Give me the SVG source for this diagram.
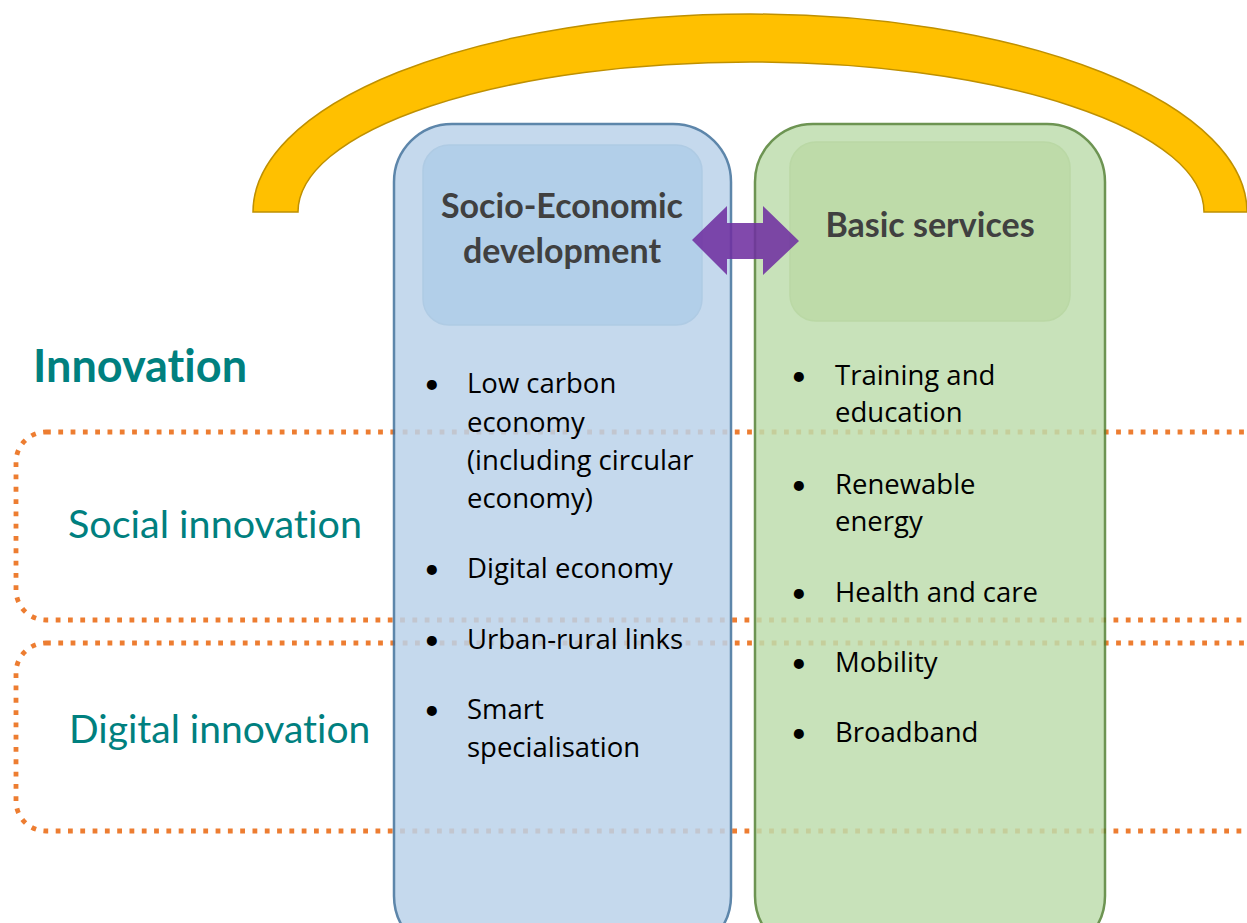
<svg xmlns="http://www.w3.org/2000/svg" width="1247" height="923" viewBox="0 0 1247 923">
<style>
text{font-variant-ligatures:none}
.dot{fill:none;stroke:#ED7D31;stroke-width:4.8;stroke-dasharray:4.8 7.5}
.col{opacity:0.85}
.title{font-family:Lato,"Open Sans",sans-serif;font-weight:bold;fill:#404040;font-size:34px;text-anchor:middle}
.item{font-family:"Open Sans",Lato,sans-serif;font-size:27.5px;fill:#000}
.item .b{font-family:Lato,"Open Sans",sans-serif;font-size:27px}
.cat{font-family:Lato,"Open Sans",sans-serif;fill:#00807F}
</style>
<rect width="1247" height="923" fill="#fff"/>
<g id="arc">
<path d="M253,212 A497,198 0 0 1 1247,212 L1204,212 A453,150 0 0 0 298,212 Z" fill="#FFC000" stroke="#BF9000" stroke-width="1.5"/>
</g>
<g id="innovation">
<text class="cat" x="33" y="382" font-size="45" font-weight="bold">Innovation</text>
</g>
<g id="social-innovation">
<rect class="dot" x="16" y="432" width="1260" height="188" rx="30"/>
<text class="cat" x="68" y="538" font-size="39.5">Social innovation</text>
</g>
<g id="digital-innovation">
<rect class="dot" x="16" y="643" width="1260" height="188" rx="30"/>
<text class="cat" x="69" y="743" font-size="39">Digital innovation</text>
</g>
<g id="socio-economic">
<rect class="col" x="394" y="124" width="337" height="830" rx="58" fill="#BBD3EB" stroke="#41719C" stroke-width="2.5"/>
<rect x="423" y="145" width="279" height="180" rx="26" fill="#B2CFE9" stroke="#AFCBE4" stroke-width="1.5"/>
<text class="title" x="562" y="218">Socio-Economic</text>
<text class="title" x="562" y="263">development</text>
<g class="item">
<text class="b" x="424" y="393">•</text><text x="467" y="393">Low carbon</text>
<text x="467" y="432">economy</text>
<text x="467" y="470">(including circular</text>
<text x="467" y="508">economy)</text>
<text class="b" x="424" y="578">•</text><text x="467" y="578">Digital economy</text>
<text class="b" x="424" y="649">•</text><text x="467" y="649">Urban-rural links</text>
<text class="b" x="424" y="719">•</text><text x="467" y="719">Smart</text>
<text x="467" y="757">specialisation</text>
</g>
</g>
<g id="basic-services">
<rect class="col" x="755" y="124" width="350" height="830" rx="58" fill="#BFDDAE" stroke="#548235" stroke-width="2.5"/>
<rect x="790" y="142" width="280" height="179" rx="26" fill="#BEDBA9" stroke="#BAD8A5" stroke-width="1.5"/>
<text class="title" x="930" y="237">Basic services</text>
<g class="item">
<text class="b" x="791" y="385">•</text><text x="835" y="385">Training and</text>
<text x="835" y="422">education</text>
<text class="b" x="791" y="494">•</text><text x="835" y="494">Renewable</text>
<text x="835" y="531">energy</text>
<text class="b" x="791" y="602">•</text><text x="835" y="602">Health and care</text>
<text class="b" x="791" y="672">•</text><text x="835" y="672">Mobility</text>
<text class="b" x="791" y="742">•</text><text x="835" y="742">Broadband</text>
</g>
</g>
<g id="connectors">
<path d="M692,240 L727,206 L727,223 L763,223 L763,206 L799,241 L763,275 L763,259 L727,259 L727,275 Z" fill="#7030A0" opacity="0.88"/>
</g>
</svg>
